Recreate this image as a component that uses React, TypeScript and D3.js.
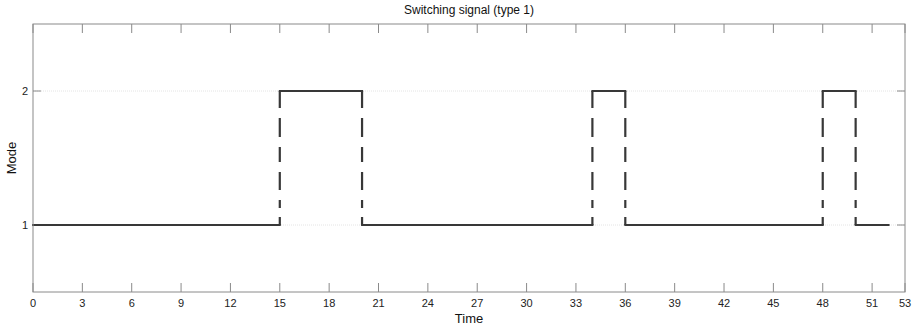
import React from "react";
import * as d3 from "d3";

const switchTimes = [0, 15, 20, 34, 36, 48, 50, 52];
const modes = [1, 2, 1, 2, 1, 2, 1];
const xTicks = [0, 3, 6, 9, 12, 15, 18, 21, 24, 27, 30, 33, 36, 39, 42, 45, 48, 51, 53];
const yTicks = [1, 2];
const title = "Switching signal (type 1)";
const xLabel = "Time";
const yLabel = "Mode";

const W = 914, H = 327;
const left = 33, right = 905, top = 24, bottom = 292;

export default function App() {
  const x = d3.scaleLinear().domain([0, 53]).range([left, right]);
  const y = d3.scaleLinear().domain([0.5, 2.5]).range([bottom, top]);
  const font = "'Liberation Sans', Arial, sans-serif";
  const axisColor = "#8a8a8a";
  const lineColor = "#383838";

  const horiz: JSX.Element[] = [];
  const vert: JSX.Element[] = [];
  for (let i = 0; i < modes.length; i++) {
    horiz.push(
      <line key={"h" + i} x1={x(switchTimes[i])} x2={x(switchTimes[i + 1])} y1={y(modes[i])} y2={y(modes[i])}
        stroke={lineColor} strokeWidth={2} strokeLinecap="square" />
    );
    if (i < modes.length - 1) {
      const ya = y(Math.max(modes[i], modes[i + 1]));
      const yb = y(Math.min(modes[i], modes[i + 1]));
      vert.push(
        <line key={"v" + i} x1={x(switchTimes[i + 1])} x2={x(switchTimes[i + 1])} y1={ya} y2={yb}
          stroke={lineColor} strokeWidth={2.2} strokeDasharray="17,10,19,10,15,10,18,10,8,9,10" />
      );
    }
  }

  return (
    <svg width={W} height={H} style={{ position: "absolute", left: 0, top: 0, background: "#fff" }}>
      <rect x={0} y={0} width={W} height={H} fill="#fff" />
      {yTicks.map((t) => (
        <line key={"g" + t} x1={left} x2={right} y1={y(t)} y2={y(t)} stroke="#e4e4e4" strokeWidth={1} strokeDasharray="1,1" />
      ))}
      {xTicks.map((t) => (
        <g key={"xt" + t}>
          <line x1={x(t)} x2={x(t)} y1={bottom} y2={bottom - 9} stroke={axisColor} strokeWidth={1} />
          <line x1={x(t)} x2={x(t)} y1={top} y2={top + 9} stroke={axisColor} strokeWidth={1} />
          <text x={x(t)} y={307} fontSize={11} fontFamily={font} textAnchor="middle" fill="#222">{t}</text>
        </g>
      ))}
      {yTicks.map((t) => (
        <g key={"yt" + t}>
          <line x1={left} x2={left + 8} y1={y(t)} y2={y(t)} stroke={axisColor} strokeWidth={1} />
          <line x1={right - 8} x2={right} y1={y(t)} y2={y(t)} stroke={axisColor} strokeWidth={1} />
          <text x={left - 5} y={y(t) + 4} fontSize={11} fontFamily={font} textAnchor="end" fill="#222">{t}</text>
        </g>
      ))}
      {horiz}
      {vert}
      <rect x={left} y={top} width={right - left} height={bottom - top} fill="none" stroke={axisColor} strokeWidth={1} />
      <text x={(left + right) / 2} y={14} fontSize={12} fontFamily={font} textAnchor="middle" fill="#111">{title}</text>
      <text x={(left + right) / 2} y={323} fontSize={13} fontFamily={font} textAnchor="middle" fill="#111">{xLabel}</text>
      <text transform={`translate(16,${(top + bottom) / 2}) rotate(-90)`} fontSize={13} fontFamily={font} textAnchor="middle" fill="#111">{yLabel}</text>
    </svg>
  );
}
